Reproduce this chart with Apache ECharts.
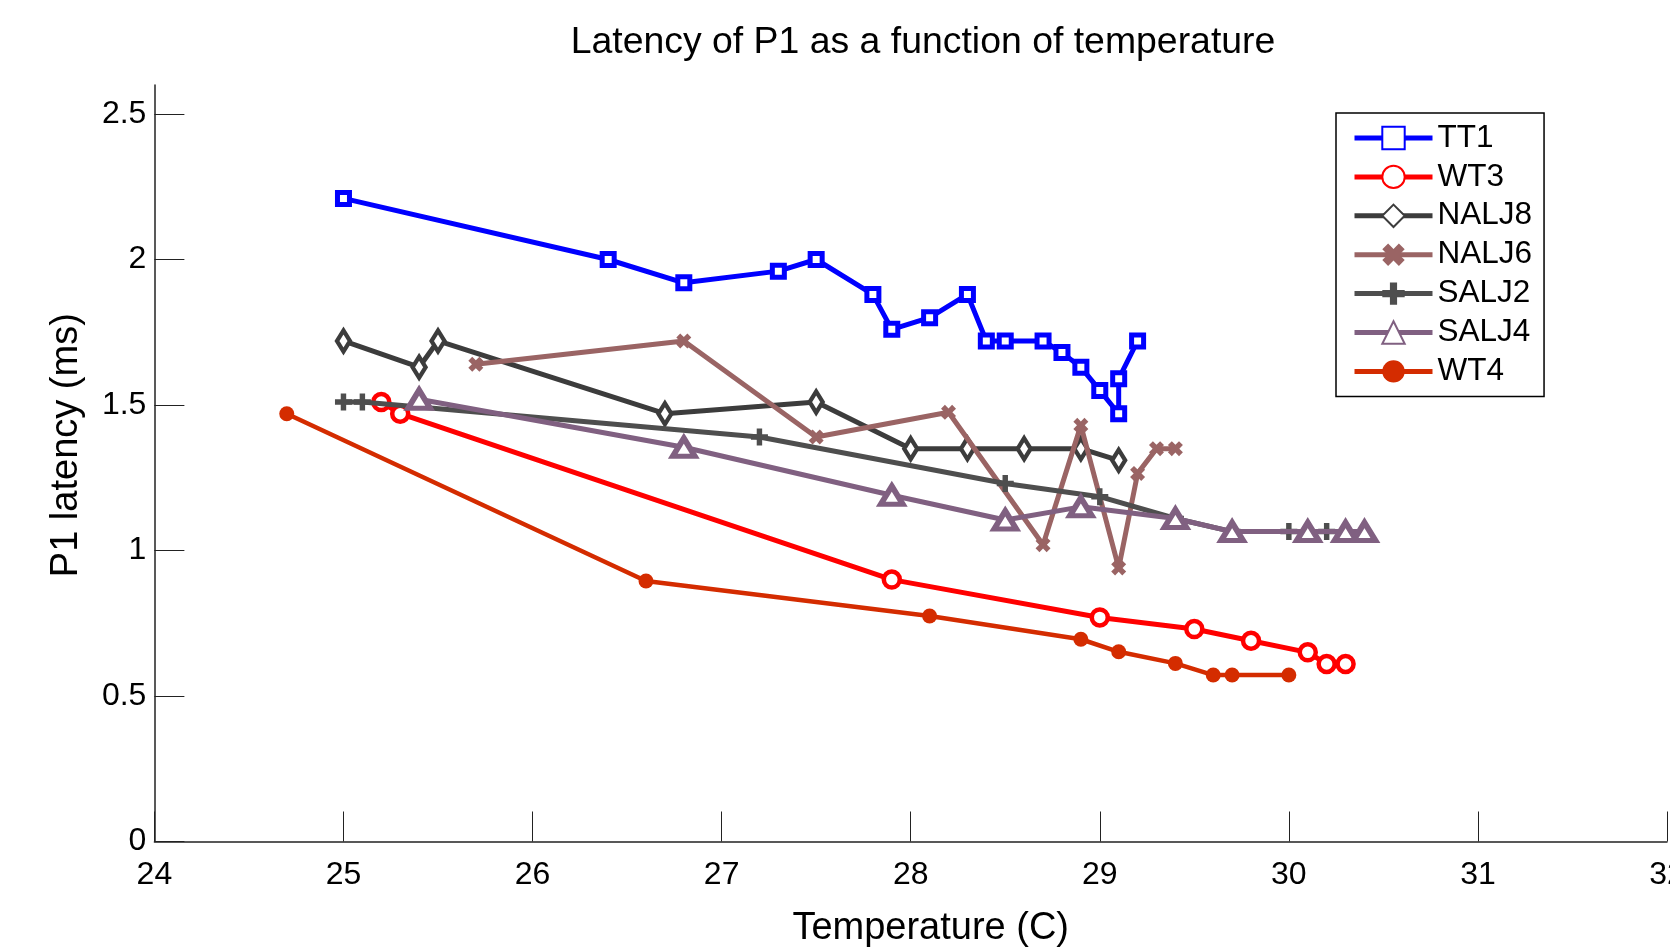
<!DOCTYPE html>
<html>
<head>
<meta charset="utf-8">
<script src="https://cdn.jsdelivr.net/npm/echarts@6/dist/echarts.min.js"></script>
<style>
  html, body { margin: 0; padding: 0; background: #fff; }
  #chart { width: 1670px; height: 948px; }
</style>
</head>
<body>
<div id="chart"></div>
<script>
// ---- Data ----
const seriesNames = ['TT1', 'WT3', 'NALJ8', 'NALJ6', 'SALJ2', 'SALJ4', 'WT4'];

const tt1X = [25.0, 26.4, 26.8, 27.3, 27.5, 27.8, 27.9, 28.1, 28.3, 28.4, 28.5, 28.7, 28.8, 28.9, 29.0, 29.1, 29.1, 29.2];
const tt1Y = [2.21, 2.00, 1.92, 1.96, 2.00, 1.88, 1.76, 1.80, 1.88, 1.72, 1.72, 1.72, 1.68, 1.63, 1.55, 1.47, 1.59, 1.72];

const wt3X = [25.2, 25.3, 27.9, 29.0, 29.5, 29.8, 30.1, 30.2, 30.3];
const wt3Y = [1.51, 1.47, 0.90, 0.77, 0.73, 0.69, 0.65, 0.61, 0.61];

const nalj8X = [25.0, 25.4, 25.5, 26.7, 27.5, 28.0, 28.3, 28.6, 28.9, 29.1];
const nalj8Y = [1.72, 1.63, 1.72, 1.47, 1.51, 1.35, 1.35, 1.35, 1.35, 1.31];

const nalj6X = [25.7, 26.8, 27.5, 28.2, 28.7, 28.9, 29.1, 29.2, 29.3, 29.4];
const nalj6Y = [1.64, 1.72, 1.39, 1.475, 1.02, 1.43, 0.94, 1.265, 1.35, 1.35];

const salj2X = [25.0, 25.1, 27.2, 28.5, 29.0, 29.4, 29.7, 30.0, 30.2];
const salj2Y = [1.51, 1.51, 1.39, 1.23, 1.185, 1.11, 1.065, 1.065, 1.065];

const salj4X = [25.4, 26.8, 27.9, 28.5, 28.9, 29.4, 29.7, 30.1, 30.3, 30.4];
const salj4Y = [1.52, 1.355, 1.19, 1.105, 1.15, 1.11, 1.065, 1.065, 1.065, 1.065];

const wt4X = [24.7, 26.6, 28.1, 28.9, 29.1, 29.4, 29.6, 29.7, 30.0];
const wt4Y = [1.47, 0.895, 0.775, 0.695, 0.652, 0.612, 0.572, 0.572, 0.572];

const yTickValues = [0, 0.5, 1, 1.5, 2, 2.5];

// ---- Build ----
function pairs(xs, ys) { return xs.map((x, i) => [x, ys[i]]); }

const FONT = "'Liberation Sans', Arial, Helvetica, sans-serif";
const plusPath = 'path://M3.4,0 L6.6,0 L6.6,3.4 L10,3.4 L10,6.6 L6.6,6.6 L6.6,10 L3.4,10 L3.4,6.6 L0,6.6 L0,3.4 L3.4,3.4 Z';
const xPath = 'path://M0,2.6 L2.6,0 L5,2.4 L7.4,0 L10,2.6 L7.6,5 L10,7.4 L7.4,10 L5,7.6 L2.6,10 L0,7.4 L2.4,5 Z';

const styles = [
  { color: '#0000FF', symbol: 'rect', size: 12, hollow: true, bw: 5, lw: 5 },
  { color: '#FF0000', symbol: 'circle', size: 16, hollow: true, bw: 4.5, lw: 5 },
  { color: '#3C3C3C', symbol: 'diamond', size: [13, 21], hollow: true, bw: 4.5, lw: 5 },
  { color: '#9A6464', symbol: xPath, size: 15, hollow: false, bw: 0, lw: 5 },
  { color: '#4E4E4E', symbol: plusPath, size: 17, hollow: false, bw: 0, lw: 5 },
  { color: '#806081', symbol: 'triangle', size: [22, 18], hollow: true, bw: 5.5, lw: 5 },
  { color: '#D42C00', symbol: 'circle', size: 15, hollow: false, bw: 0, lw: 4.5 }
];

const dataSets = [
  pairs(tt1X, tt1Y), pairs(wt3X, wt3Y), pairs(nalj8X, nalj8Y), pairs(nalj6X, nalj6Y),
  pairs(salj2X, salj2Y), pairs(salj4X, salj4Y), pairs(wt4X, wt4Y)
];

const series = seriesNames.map((name, i) => {
  const s = styles[i];
  return {
    name: name,
    type: 'line',
    data: dataSets[i],
    symbol: s.symbol,
    symbolSize: s.size,
    showAllSymbol: true,
    lineStyle: { color: s.color, width: s.lw },
    itemStyle: s.hollow
      ? { color: '#ffffff', borderColor: s.color, borderWidth: s.bw }
      : { color: s.color, borderWidth: 0 },
    emphasis: { disabled: true },
    z: 2 + i
  };
});

const chart = echarts.init(document.getElementById('chart'), null, { renderer: 'canvas' });
chart.setOption({
  animation: false,
  backgroundColor: '#ffffff',
  title: {
    text: 'Latency of P1 as a function of temperature',
    left: 923,
    top: 24,
    padding: 0,
    textAlign: 'center',
    textStyle: { fontFamily: FONT, fontSize: 37.4, fontWeight: 'normal', color: '#000' }
  },
  legend: {
    orient: 'vertical',
    left: 1336,
    top: 113,
    padding: [9, 12, 9, 16],
    itemWidth: 78,
    itemHeight: 28,
    itemGap: 6.9,
    backgroundColor: '#ffffff',
    borderColor: '#000000',
    borderWidth: 1.5,
    borderRadius: 0,
    lineStyle: { width: 5 },
    textStyle: { fontFamily: FONT, fontSize: 31.5, color: '#000', lineHeight: 30 },
    data: seriesNames
  },
  grid: { left: 154.4, right: 3, top: 84.9, bottom: 106.5, outerBoundsMode: 'none', containLabel: false },
  xAxis: {
    type: 'value',
    min: 24,
    max: 32,
    interval: 1,
    name: 'Temperature (C)',
    nameLocation: 'middle',
    nameGap: 68,
    nameTextStyle: { fontFamily: FONT, fontSize: 38, color: '#000', padding: [0, 0, 0, 40] },
    axisLine: { show: true, onZero: false, lineStyle: { color: '#222', width: 1.5 } },
    axisTick: { show: true, inside: true, length: 30, lineStyle: { color: '#222', width: 1 } },
    axisLabel: { fontFamily: FONT, fontSize: 32, color: '#000', margin: 18, showMinLabel: true, showMaxLabel: true, hideOverlap: false },
    splitLine: { show: false }
  },
  yAxis: {
    type: 'value',
    min: 0,
    max: 2.6,
    interval: 0.5,
    name: 'P1 latency (ms)',
    nameLocation: 'middle',
    nameGap: 69,
    nameRotate: 90,
    nameTextStyle: { fontFamily: FONT, fontSize: 38, color: '#000', padding: [0, 0, 0, 36] },
    axisLine: { show: true, onZero: false, lineStyle: { color: '#222', width: 1.5 } },
    axisTick: { show: true, inside: true, length: 30, customValues: yTickValues, lineStyle: { color: '#222', width: 1 } },
    axisLabel: { fontFamily: FONT, fontSize: 32, color: '#000', margin: 8, customValues: yTickValues },
    splitLine: { show: false }
  },
  series: series
});
</script>
</body>
</html>
